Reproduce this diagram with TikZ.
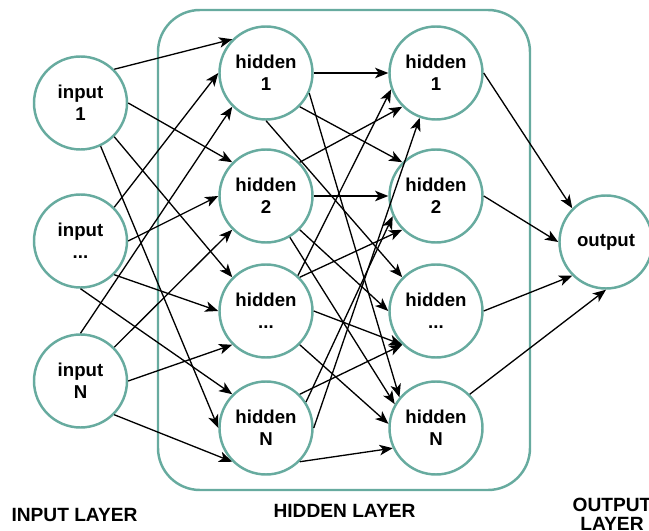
\documentclass[tikz,border=0pt]{standalone}
\usepackage{fontspec}
\setsansfont{Liberation Sans}
\usepackage{tikz}
\usetikzlibrary{
  arrows.meta            % Arrow tips (Stealth)
}
\definecolor{teal}{HTML}{67AB9F}
\tikzset{
  neuron/.style={circle, draw=teal, line width=1.4pt, fill=white, minimum size=1.86cm, inner sep=0pt,
    align=center, font=\sffamily\bfseries\fontsize{10.6}{12.5}\selectfont},
  link/.style={line width=0.75pt, -{Stealth[length=7.5pt, width=6pt, inset=2pt]}},
  layerlabel/.style={align=center, font=\sffamily\bfseries\fontsize{10.9}{10.8}\selectfont}
}

\begin{document}
\begin{tikzpicture}[scale=1]
            \useasboundingbox (0,0) rectangle (12.98,10.62);

            % Box round the hidden layers
            \draw[teal, line width=1.4pt, rounded corners=0.84cm] (3.16,0.82) rectangle (10.60,10.42);

            % Input layer
            \node[neuron] (i1) at (1.61,8.56) {input\\1};
            \node[neuron] (i2) at (1.61,5.80) {input\\...};
            \node[neuron] (i3) at (1.61,3.00) {input\\N};

            % First hidden column
            \node[neuron] (a1) at (5.32,9.16) {hidden\\1};
            \node[neuron] (a2) at (5.32,6.70) {hidden\\2};
            \node[neuron] (a3) at (5.32,4.40) {hidden\\...};
            \node[neuron] (a4) at (5.32,2.06) {hidden\\N};

            % Second hidden column
            \node[neuron] (b1) at (8.72,9.16) {hidden\\1};
            \node[neuron] (b2) at (8.72,6.70) {hidden\\2};
            \node[neuron] (b3) at (8.72,4.40) {hidden\\...};
            \node[neuron] (b4) at (8.72,2.06) {hidden\\N};

            % Output layer
            \node[neuron] (out) at (12.12,5.78) {output};

            % Input -> first hidden column (source/angle/target/angle)
            \foreach \s/\sa/\t/\ta in {i1/45/a1/135, i1/0/a2/135, i1/-45/a3/135, i1/-65/a4/180,
                                       i2/45/a1/180, i2/0/a2/180, i2/-45/a3/180, i2/-90/a4/135,
                                       i3/90/a1/225, i3/45/a2/225, i3/0/a3/225, i3/-45/a4/225}
              \draw[link] (\s.\sa) -- (\t.\ta);

            % First hidden column -> second hidden column
            \foreach \s/\sa/\t/\ta in {a1/0/b1/180, a1/-45/b2/135, a1/-90/b3/135, a1/-25/b4/140,
                                       a2/45/b1/225, a2/0/b2/180, a2/-45/b3/180, a2/-60/b4/150,
                                       a3/48/b1/200, a3/45/b2/225, a3/0/b3/225, a3/-45/b4/175,
                                       a4/0/b1/250, a4/33/b2/205, a4/45/b3/225, a4/-45/b4/205}
              \draw[link] (\s.\sa) -- (\t.\ta);

            % Second hidden column -> output
            \foreach \s/\sa/\t/\ta in {b1/0/out/135, b2/0/out/180, b3/0/out/225, b4/45/out/270}
              \draw[link] (\s.\sa) -- (\t.\ta);

            % Layer names
            \node[layerlabel] (inlabel) at (1.49,0.32) {INPUT LAYER};
            \node[layerlabel] (hidlabel) at (6.89,0.40) {HIDDEN LAYER};
            \node[layerlabel] (outlabel) at (12.24,0.33) {OUTPUT\\LAYER};
        \end{tikzpicture}
\end{document}
